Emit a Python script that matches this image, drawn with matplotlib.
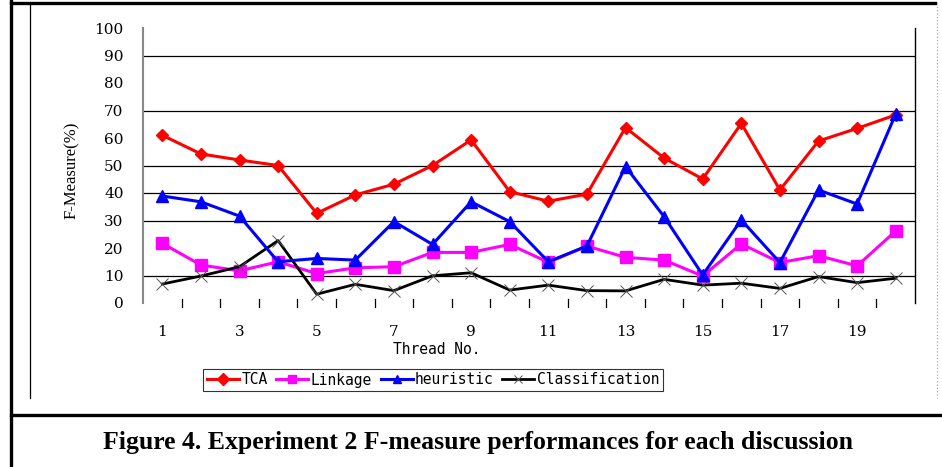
import matplotlib
matplotlib.use("Agg")
import matplotlib.pyplot as plt
from matplotlib.lines import Line2D

# Data
threads = list(range(1, 21))
tca = [61, 54.2, 52, 50, 32.6, 39.3, 43.2, 50, 59.3, 40.5,
       37, 39.6, 63.8, 52.7, 45.1, 65.3, 41.1, 58.9, 63.5, 68.4]
linkage = [21.7, 13.8, 11.7, 15, 10.7, 12.8, 13.2, 18.4, 18.4, 21.3,
           14.8, 20.7, 16.6, 15.6, 9.8, 21.5, 14.7, 17.2, 13.5, 26.2]
heuristic = [38.9, 36.8, 31.6, 15, 16.2, 15.6, 29.6, 21.3, 36.8, 29.6,
             15, 20.7, 49.6, 31.4, 10.2, 30.2, 14.7, 41.1, 36, 68.7]
classification = [6.9, 9.8, 13.2, 22.7, 3.2, 6.8, 4.5, 9.9, 11, 4.7,
                  6.5, 4.5, 4.4, 8.6, 6.5, 7.2, 5.3, 9.6, 7.4, 9]
y_ticks = list(range(0, 101, 10))
grid_values = [10, 30, 40, 50, 70, 90]   # only these gridlines survive in the scan
x_labels = [str(t) for t in threads[::2]]

W, H = 942, 467
fig = plt.figure(figsize=(W / 100, H / 100), dpi=100)
fig.patch.set_facecolor("white")

def fx(px):
    return px / W

def fy(py):
    return 1 - py / H

ax = fig.add_axes([fx(143), fy(303), fx(915) - fx(143), fy(28) - fy(303)])

# Page frame around the figure
frame = [
    ([11, 11], [0, H], 2.4, "black", "-"),
    ([11, 935], [3, 3], 2.4, "black", "-"),
    ([30, 30], [3, 398], 0.9, "black", "-"),
    ([937, 937], [3, 398], 0.9, "#aaaaaa", ":"),
    ([11, W], [415, 415], 2.4, "black", "-"),
]
for xs, ys, lw, col, ls in frame:
    fig.add_artist(Line2D([fx(v) for v in xs], [fy(v) for v in ys],
                          transform=fig.transFigure, lw=lw, color=col, ls=ls))

for g in grid_values:
    ax.axhline(g, color="black", lw=0.9, zorder=1)

x = list(range(len(threads)))
ax.plot(x, tca, color="#ff0000", lw=2.2, marker="D", ms=6.5, label="TCA", zorder=3)
ax.plot(x, linkage, color="#ff00ff", lw=2.2, marker="s", ms=9, label="Linkage", zorder=3)
ax.plot(x, heuristic, color="#0000ff", lw=2.2, marker="^", ms=9, label="heuristic", zorder=4)
ax.plot(x, classification, color="black", lw=2.0, marker="x", ms=9,
        mec="#555555", mew=0.7, label="Classification", zorder=3)

ax.set_xlim(-0.5, len(threads) - 0.5)
ax.set_ylim(0, 100)
ax.set_yticks(y_ticks)
ax.set_yticklabels([str(v) for v in y_ticks], fontsize=11, family="DejaVu Serif")
ax.tick_params(axis="y", length=0, pad=14)

ax.set_xticks(x[::2])
ax.set_xticklabels(x_labels, fontsize=11, family="DejaVu Serif")
ax.tick_params(axis="x", length=0, pad=16)
# small category-boundary ticks along the bottom
for b in x[:-1]:
    ax.plot([b + 0.5, b + 0.5], [-1.5, 1.5], color="black", lw=0.9,
            clip_on=False, zorder=2)

ax.spines["top"].set_visible(False)
ax.spines["bottom"].set_visible(False)
ax.spines["left"].set_color("#888888")
ax.spines["left"].set_linewidth(1.5)
ax.spines["right"].set_color("black")
ax.spines["right"].set_linewidth(1.0)

fig.text(fx(437), fy(349), "Thread No.", ha="center", va="center",
         fontsize=10.5, family="DejaVu Sans Mono")
fig.text(fx(72), fy(170), "F-Measure(%)", ha="center", va="center",
         rotation=90, fontsize=12, family="Liberation Serif")

leg = fig.legend(loc="center", bbox_to_anchor=(fx(433), fy(380)), ncol=4,
                 frameon=True, fancybox=False, handlelength=2.2,
                 handletextpad=0.15, columnspacing=0.6, borderpad=0.25,
                 prop={"family": "DejaVu Sans Mono", "size": 10.5})
leg.get_frame().set_edgecolor("black")
leg.get_frame().set_linewidth(0.8)
for h in leg.legend_handles:
    h.set_markersize(6)

fig.text(fx(478), fy(443), "Figure 4. Experiment 2 F-measure performances for each discussion",
         ha="center", va="center", fontsize=18.5, fontweight="bold", family="Liberation Serif")

fig.savefig("out.png", dpi=100)
